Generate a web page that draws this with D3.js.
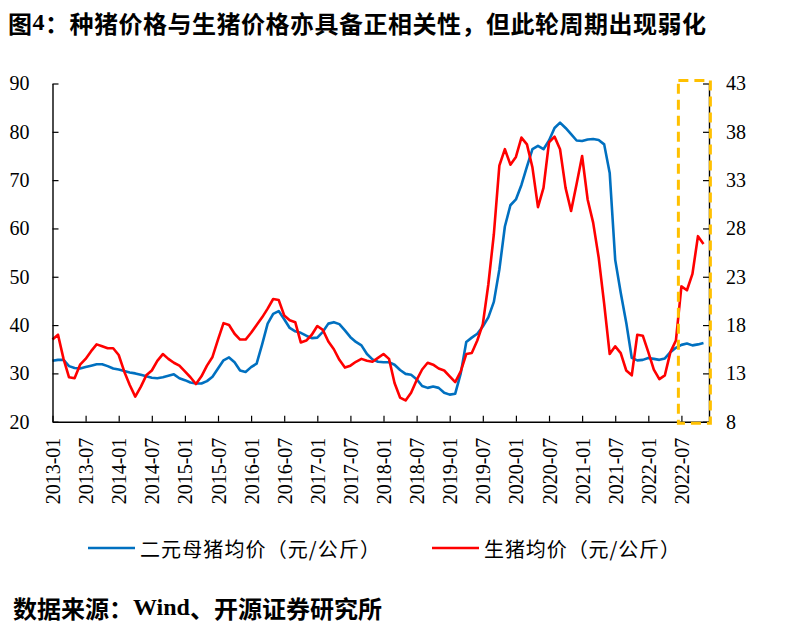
<!DOCTYPE html>
<html><head><meta charset="utf-8">
<script src="https://cdn.jsdelivr.net/npm/d3@7"></script>
<style>
html,body{margin:0;padding:0;background:#fff;}
svg{display:block;}
</style></head>
<body>
<svg id="chart" width="804" height="631"></svg>
<script>
// ---------- data ----------
const tickLabels = ["2013-01","2013-07","2014-01","2014-07","2015-01","2015-07","2016-01","2016-07","2017-01","2017-07","2018-01","2018-07","2019-01","2019-07","2020-01","2020-07","2021-01","2021-07","2022-01","2022-07"];
// 二元母猪均价 (left axis), monthly 2013-01 .. 2022-11
const sowPrice = [
32.6,32.8,32.8,31.5,31.1,31.0,31.3,31.6,31.9,31.9,31.5,31.0,30.8,30.5,30.2,30.0,29.7,29.4,29.1,29.0,29.2,29.5,29.8,29.0,28.6,
28.1,27.9,27.9,28.4,29.3,31.0,32.7,33.3,32.3,30.6,30.3,31.3,32.0,36.0,40.3,42.3,42.9,41.2,39.4,38.7,38.4,37.8,37.3,37.4,38.6,
40.3,40.6,40.2,38.9,37.5,36.5,35.8,34.0,32.9,32.4,32.3,32.3,31.8,30.7,29.9,29.7,28.8,27.4,27.0,27.3,27.0,26.0,25.6,25.8,
30.0,36.5,37.4,38.2,39.7,41.6,44.8,51.5,60.4,64.8,66.0,69.0,72.8,76.4,77.1,76.4,78.2,80.8,81.9,80.8,79.5,78.2,78.1,78.4,
78.5,78.3,77.4,71.5,53.5,46.7,40.5,33.2,32.7,32.8,33.2,33.0,32.8,33.1,34.4,35.3,35.9,36.2,35.8,36.0,36.3
];
// 生猪均价 (right axis)
const hogPrice = [
16.5,17.0,14.5,12.6,12.5,13.9,14.5,15.3,16.0,15.8,15.6,15.6,14.9,13.2,11.8,10.6,11.6,12.8,13.3,14.3,15.0,14.5,14.1,13.8,13.2,
12.6,11.9,12.7,13.8,14.7,16.5,18.2,18.0,17.1,16.5,16.5,17.2,18.0,18.8,19.7,20.7,20.6,19.0,18.5,18.3,16.2,16.4,17.0,17.9,17.5,
16.3,15.5,14.4,13.6,13.8,14.2,14.5,14.3,14.2,14.6,15.0,14.5,12.0,10.5,10.2,11.0,12.3,13.4,14.1,13.9,13.5,13.3,12.7,12.1,
13.2,15.0,15.1,16.4,18.1,22.2,27.4,34.5,36.2,34.6,35.4,37.4,36.7,34.3,30.2,32.2,36.9,37.5,36.2,32.2,29.8,32.6,35.5,31.0,
28.6,25.0,20.2,15.0,15.8,15.1,13.3,12.8,17.0,16.9,15.2,13.4,12.4,12.8,15.2,16.4,22.0,21.6,23.3,27.2,26.4
];
const leftTicks = [20,30,40,50,60,70,80,90];
const rightTicks = [8,13,18,23,28,33,38,43];
const seriesNames = ["二元母猪均价（元/公斤）","生猪均价（元/公斤）"];
const colors = ["#0070C0","#FF0000"];
// highlighted period box (month index range, left-axis value range)
const boxMonths = [113.45, 119.25];
const boxValues = [19.7, 90.6];

// ---------- layout ----------
const svg = d3.select("#chart");
const plotL = 52.5, plotR = 709, plotT = 83.5, plotB = 421.7;
const nMonths = sowPrice.length;
const x = d3.scaleLinear().domain([0, nMonths]).range([plotL, plotR]);
const yL = d3.scaleLinear().domain([20, 90]).range([plotB, plotT]);
const yR = d3.scaleLinear().domain([8, 43]).range([plotB, plotT]);
const tickIdx = tickLabels.map((t,i)=>i*6);

// title
const title = svg.append("text").attr("x",8).attr("y",22).attr("dominant-baseline","central")
  .style("font-family","'Noto Sans CJK SC'").style("font-weight","bold").style("font-size","24px").style("letter-spacing","0.5px");
title.append("tspan").text("图");
title.append("tspan").style("font-family","'Liberation Serif'").text("4");
title.append("tspan").text("：种猪价格与生猪价格亦具备正相关性，但此轮周期出现弱化");

// lines
const lineL = d3.line().x((d,i)=>x(i)).y(d=>yL(d));
const lineR = d3.line().x((d,i)=>x(i)).y(d=>yR(d));
svg.append("path").datum(sowPrice).attr("d",lineL).attr("fill","none")
  .attr("stroke",colors[0]).attr("stroke-width",2.6).attr("stroke-linejoin","round");
svg.append("path").datum(hogPrice).attr("d",lineR).attr("fill","none")
  .attr("stroke",colors[1]).attr("stroke-width",2.6).attr("stroke-linejoin","round");

// axes
const axisFont = "'Liberation Serif','Times New Roman',serif";
function styleAxis(g){
  g.select(".domain").attr("stroke","#000").attr("stroke-width",1.4);
  g.selectAll(".tick line").attr("stroke","#000").attr("stroke-width",1.2);
  g.selectAll("text").style("font-family",axisFont).style("font-size","20px").attr("fill","#000");
}
const gL = svg.append("g").attr("transform",`translate(${plotL},0)`)
  .call(d3.axisLeft(yL).tickValues(leftTicks).tickSize(-6).tickSizeOuter(0).tickPadding(23));
styleAxis(gL);
const gR = svg.append("g").attr("transform",`translate(${plotR},0)`)
  .call(d3.axisRight(yR).tickValues(rightTicks).tickSize(-6).tickSizeOuter(0).tickPadding(17));
styleAxis(gR);
const gB = svg.append("g").attr("transform",`translate(0,${plotB})`)
  .call(d3.axisBottom(x).tickValues(tickIdx).tickSize(-6).tickSizeOuter(0).tickFormat((d,i)=>tickLabels[i]));
styleAxis(gB);
gB.selectAll("text").attr("transform","rotate(-90)").attr("text-anchor","end")
  .attr("x",-16).attr("y",0).attr("dy","0.35em");

// highlight box
svg.append("rect")
  .attr("x",x(boxMonths[0])).attr("y",yL(boxValues[1]))
  .attr("width",x(boxMonths[1])-x(boxMonths[0])).attr("height",yL(boxValues[0])-yL(boxValues[1]))
  .attr("fill","none").attr("stroke","#FFC000").attr("stroke-width",3).attr("stroke-dasharray","10,6");

// legend
const legendItems = [{x:88,name:seriesNames[0],c:colors[0],w:240},{x:432,name:seriesNames[1],c:colors[1],w:196}];
legendItems.forEach(it=>{
  svg.append("line").attr("x1",it.x).attr("x2",it.x+47).attr("y1",548).attr("y2",548)
    .attr("stroke",it.c).attr("stroke-width",2.6);
  svg.append("text").attr("x",it.x+52).attr("y",548).attr("dominant-baseline","central")
    .attr("textLength",it.w).attr("lengthAdjust","spacing")
    .style("font-family","'Noto Sans CJK SC'").style("font-size","20px").attr("fill","#000").text(it.name);
});

// source
const src = svg.append("text").attr("x",13).attr("y",607).attr("dominant-baseline","central")
  .style("font-family","'Noto Sans CJK SC'").style("font-weight","bold").style("font-size","24px");
src.append("tspan").text("数据来源：");
src.append("tspan").style("font-family","'Liberation Serif'").text("Wind");
src.append("tspan").text("、开源证券研究所");
</script>
</body></html>
